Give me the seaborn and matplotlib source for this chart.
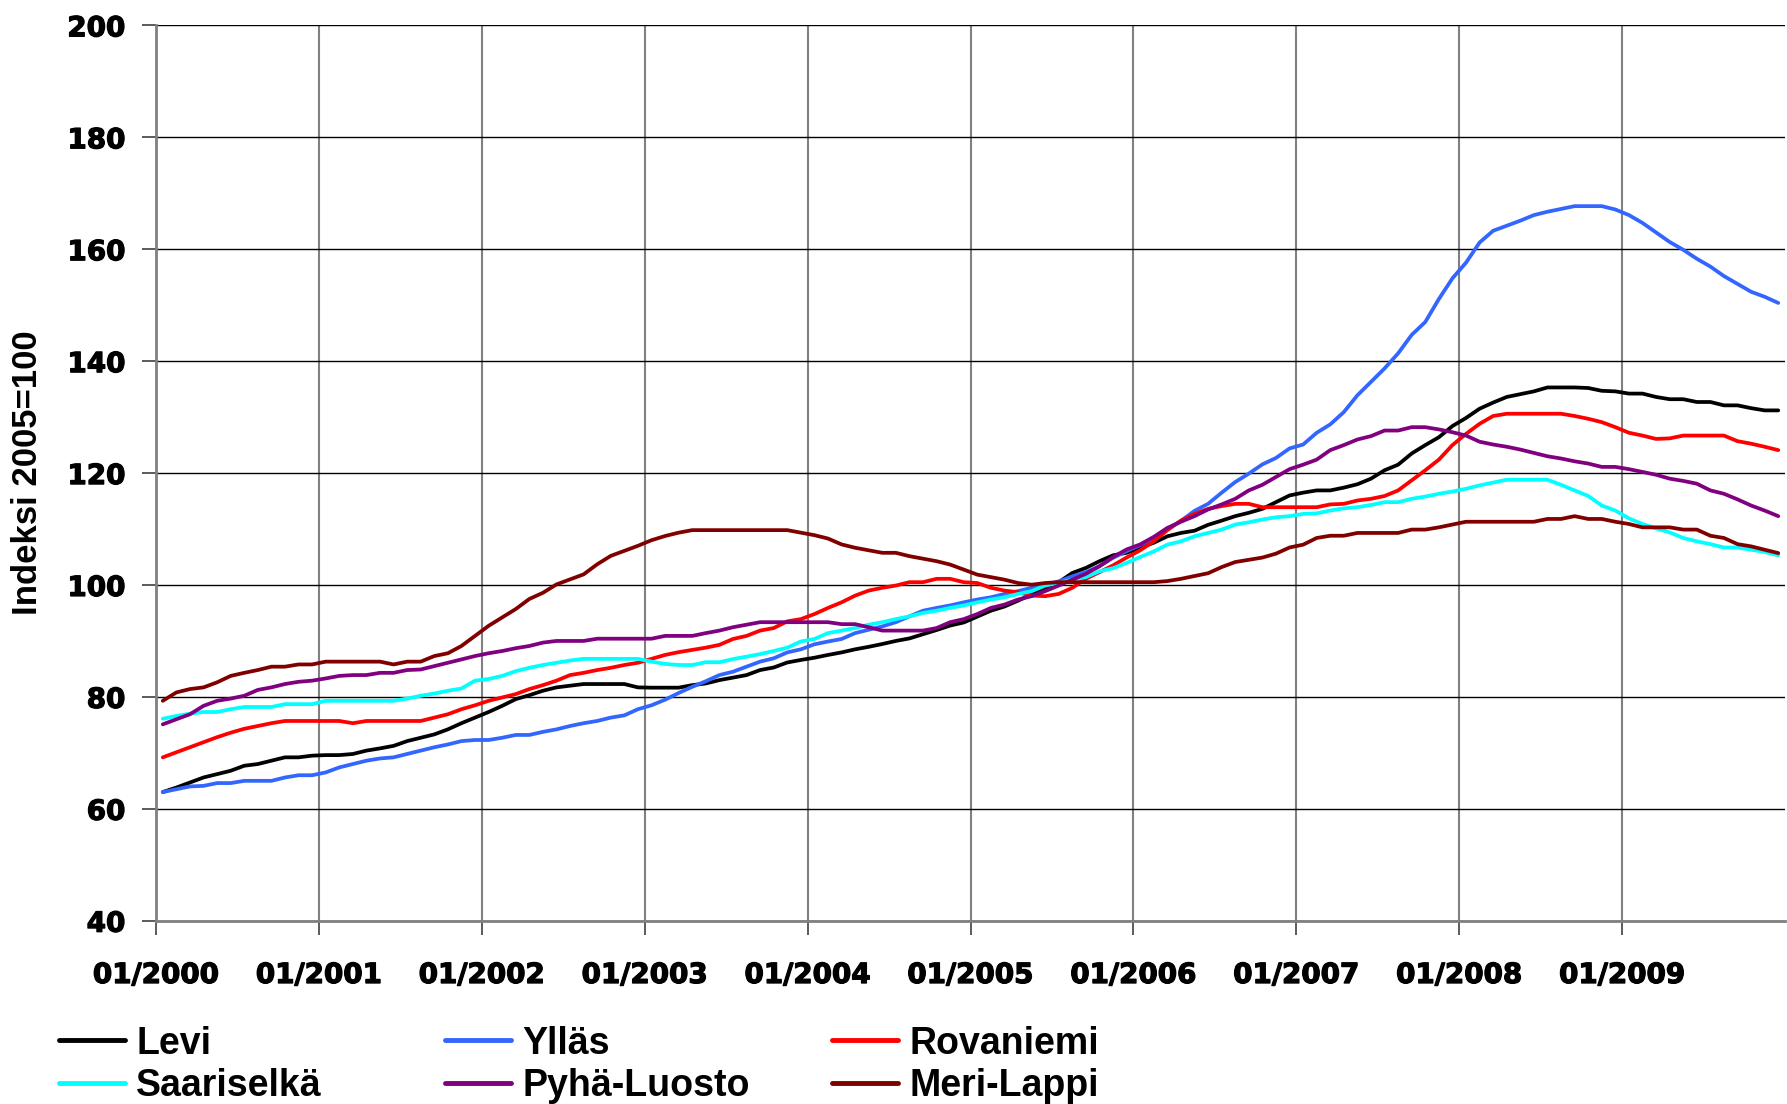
import numpy as np
import pandas as pd
import matplotlib
matplotlib.use("Agg")
import matplotlib.pyplot as plt
import matplotlib.patheffects as pe
import seaborn as sns

# kuukausittaiset indeksit 01/2000 - 12/2009 (2005=100)
levi = [63, 63.8, 64.7, 65.6, 66.2, 66.8, 67.7, 68, 68.6, 69.2, 69.2, 69.5,
        69.6, 69.6, 69.8, 70.4, 70.8, 71.25, 72.1, 72.7, 73.3, 74.2, 75.3, 76.3,
        77.3, 78.4, 79.6, 80.3, 81.1, 81.7, 82, 82.3, 82.3, 82.3, 82.3, 81.7,
        81.65, 81.65, 81.65, 82.1, 82.4, 83, 83.45, 83.9, 84.8, 85.25, 86.15, 86.6,
        87, 87.5, 87.95, 88.5, 88.95, 89.45, 90, 90.45, 91.2, 91.95, 92.75, 93.3,
        94.35, 95.4, 96.15, 97.2, 98.3, 99.5, 100.5, 102.15, 103.05, 104.25, 105.3, 105.75,
        106.65, 107.55, 108.7, 109.3, 109.7, 110.75, 111.5, 112.3, 112.9, 113.6, 114.8, 116,
        116.5, 116.9, 116.9, 117.4, 118, 119, 120.5, 121.5, 123.5, 125, 126.4, 128.4,
        129.85, 131.5, 132.6, 133.6, 134.1, 134.6, 135.3, 135.3, 135.3, 135.2, 134.7, 134.6,
        134.2, 134.2, 133.6, 133.2, 133.2, 132.7, 132.7, 132.1, 132.1, 131.6, 131.2, 131.2]

yllas = [63, 63.5, 64, 64.1, 64.6, 64.6, 65, 65, 65, 65.6, 66, 66,
         66.5, 67.4, 68, 68.6, 69, 69.2, 69.8, 70.4, 71, 71.5, 72.1, 72.3,
         72.3, 72.7, 73.2, 73.2, 73.75, 74.2, 74.8, 75.3, 75.7, 76.3, 76.7, 77.8,
         78.5, 79.5, 80.7, 81.8, 82.8, 83.9, 84.5, 85.4, 86.3, 86.9, 87.95, 88.5,
         89.4, 89.9, 90.35, 91.4, 92, 92.6, 93.35, 94.4, 95.4, 95.9, 96.35, 96.9,
         97.4, 97.8, 98.4, 98.9, 99.5, 100.05, 100.65, 101.55, 102.3, 103.35, 104.85, 106.05,
         107.1, 108.45, 109.95, 111.45, 113.25, 114.5, 116.5, 118.4, 119.9, 121.55, 122.7, 124.4,
         125.1, 127.2, 128.7, 130.9, 133.9, 136.3, 138.7, 141.4, 144.7, 147, 151.1, 154.8,
         157.6, 161.2, 163.3, 164.2, 165.1, 166.1, 166.7, 167.2, 167.7, 167.7, 167.7, 167.1,
         166.1, 164.7, 163, 161.3, 159.9, 158.3, 156.9, 155.2, 153.8, 152.4, 151.5, 150.4]

rovaniemi = [69.2, 70.1, 71, 71.9, 72.8, 73.6, 74.3, 74.8, 75.3, 75.7, 75.7, 75.7,
             75.7, 75.7, 75.3, 75.7, 75.7, 75.7, 75.7, 75.7, 76.3, 76.9, 77.8, 78.5,
             79.3, 79.9, 80.5, 81.4, 82.1, 82.9, 83.9, 84.3, 84.8, 85.2, 85.7, 86.1,
             86.8, 87.5, 88, 88.4, 88.8, 89.3, 90.35, 90.9, 91.85, 92.3, 93.5, 93.9,
             94.8, 95.9, 96.9, 98.1, 99, 99.5, 99.9, 100.5, 100.5, 101.1, 101.1, 100.5,
             100.35, 99.5, 99, 98.7, 98.1, 98, 98.4, 99.5, 101.1, 102.3, 103.5, 104.9,
             106.2, 107.8, 109.8, 111.5, 112.7, 113.6, 114.1, 114.5, 114.5, 113.9, 113.9, 113.9,
             113.9, 113.9, 114.4, 114.5, 115.1, 115.4, 115.9, 116.9, 118.7, 120.5, 122.4, 125,
             127, 128.8, 130.2, 130.6, 130.6, 130.6, 130.6, 130.6, 130.2, 129.7, 129.1, 128.2,
             127.2, 126.7, 126.1, 126.2, 126.7, 126.7, 126.7, 126.7, 125.7, 125.25, 124.7, 124.1]

saariselka = [76.1, 76.6, 77, 77.3, 77.3, 77.8, 78.2, 78.2, 78.2, 78.7, 78.7, 78.7,
              79.3, 79.3, 79.3, 79.3, 79.3, 79.3, 79.7, 80.2, 80.6, 81.1, 81.5, 82.9,
              83.2, 83.75, 84.6, 85.2, 85.7, 86.1, 86.5, 86.8, 86.8, 86.8, 86.8, 86.8,
              86.3, 85.9, 85.7, 85.7, 86.2, 86.2, 86.75, 87.2, 87.65, 88.2, 88.8, 89.9,
              90.35, 91.4, 91.85, 92.3, 92.9, 93.35, 93.9, 94.4, 95, 95.4, 95.9, 96.35,
              96.9, 97.4, 97.8, 98.4, 98.9, 99.9, 100.35, 100.95, 101.4, 102.45, 103, 103.95,
              105, 106, 107.2, 107.8, 108.7, 109.3, 109.9, 110.8, 111.2, 111.7, 112.1, 112.3,
              112.7, 112.8, 113.3, 113.7, 113.9, 114.3, 114.8, 114.8, 115.4, 115.8, 116.3, 116.7,
              117.2, 117.8, 118.3, 118.8, 118.8, 118.8, 118.8, 117.9, 116.9, 115.9, 114.2, 113.3,
              111.9, 110.9, 110.1, 109.4, 108.4, 107.8, 107.3, 106.7, 106.7, 106.3, 105.9, 105.3]

pyha_luosto = [75.1, 76, 76.9, 78.4, 79.3, 79.7, 80.2, 81.25, 81.7, 82.3, 82.7, 82.9,
               83.3, 83.75, 83.9, 83.9, 84.3, 84.3, 84.8, 84.9, 85.5, 86.1, 86.7, 87.3,
               87.8, 88.2, 88.7, 89.1, 89.7, 90, 90, 90, 90.4, 90.4, 90.4, 90.4,
               90.4, 90.9, 90.9, 90.9, 91.4, 91.85, 92.45, 92.9, 93.35, 93.35, 93.35, 93.35,
               93.35, 93.35, 93, 93, 92.45, 91.85, 91.85, 91.85, 91.85, 92.3, 93.35, 93.9,
               94.8, 95.9, 96.5, 97.4, 98, 98.9, 99.9, 100.95, 102, 103.35, 105, 106.35,
               107.25, 108.6, 110.2, 111.3, 112.3, 113.5, 114.4, 115.4, 116.9, 117.9, 119.3, 120.7,
               121.5, 122.4, 124.1, 125, 126, 126.6, 127.6, 127.6, 128.2, 128.2, 127.8, 127.3,
               126.7, 125.6, 125.1, 124.7, 124.2, 123.6, 123, 122.6, 122.1, 121.7, 121.1, 121.1,
               120.7, 120.2, 119.7, 119, 118.6, 118.1, 116.9, 116.3, 115.3, 114.2, 113.3, 112.3]

meri_lappi = [79.3, 80.8, 81.4, 81.7, 82.6, 83.75, 84.3, 84.8, 85.4, 85.4, 85.8, 85.8,
              86.3, 86.3, 86.3, 86.3, 86.3, 85.8, 86.3, 86.3, 87.3, 87.8, 89.1, 90.9,
              92.7, 94.2, 95.7, 97.5, 98.6, 100.1, 101, 101.9, 103.7, 105.2, 106.1, 107,
              108, 108.75, 109.35, 109.8, 109.8, 109.8, 109.8, 109.8, 109.8, 109.8, 109.8, 109.35,
              108.9, 108.3, 107.25, 106.65, 106.2, 105.75, 105.75, 105.15, 104.7, 104.25, 103.65, 102.75,
              101.85, 101.4, 100.95, 100.35, 100.05, 100.35, 100.5, 100.5, 100.5, 100.5, 100.5, 100.5,
              100.5, 100.5, 100.7, 101.1, 101.6, 102.1, 103.2, 104.1, 104.5, 104.9, 105.6, 106.7,
              107.2, 108.4, 108.8, 108.8, 109.3, 109.3, 109.3, 109.3, 109.9, 109.9, 110.3, 110.8,
              111.3, 111.3, 111.3, 111.3, 111.3, 111.3, 111.8, 111.8, 112.3, 111.8, 111.8, 111.3,
              110.9, 110.3, 110.3, 110.3, 109.9, 109.9, 108.8, 108.4, 107.3, 106.9, 106.3, 105.7]

alueet = ["Levi", "Ylläs", "Rovaniemi", "Saariselkä", "Pyhä-Luosto", "Meri-Lappi"]
varit = ["#000000", "#3366FF", "#FF0000", "#00FFFF", "#800080", "#800000"]
vuosi_labels = ["01/2000", "01/2001", "01/2002", "01/2003", "01/2004",
                "01/2005", "01/2006", "01/2007", "01/2008", "01/2009"]

df = pd.DataFrame({"Levi": levi, "Ylläs": yllas, "Rovaniemi": rovaniemi,
                   "Saariselkä": saariselka, "Pyhä-Luosto": pyha_luosto,
                   "Meri-Lappi": meri_lappi})
df["kk"] = np.arange(len(df)) + 0.5
long = df.melt(id_vars="kk", var_name="alue", value_name="indeksi")

sns.set_style("white")
plt.rcParams["font.family"] = ["DejaVu Sans"]
plt.rcParams["text.color"] = "black"
plt.rcParams["axes.labelcolor"] = "black"

fig = plt.figure(figsize=(17.87, 11.04), dpi=100)
ax = fig.add_axes([0.0873, 0.166, 0.9116, 0.811])

sns.lineplot(data=long, x="kk", y="indeksi", hue="alue", hue_order=alueet,
             palette=varit, linewidth=2.7, legend=False, ax=ax)

ax.set_xlim(0, 120)
ax.set_ylim(40, 200)
ax.set_yticks(range(40, 201, 20))
ax.set_xticks(range(0, 120, 12))
ax.set_xticklabels(vuosi_labels)
ax.set_xlabel("")

ax.yaxis.grid(True, color="#000000", linewidth=1.0)
ax.xaxis.grid(True, color="#808080", linewidth=1.5)
for s in ["top", "right"]:
    ax.spines[s].set_visible(False)
for s in ["left", "bottom"]:
    ax.spines[s].set_color("#808080")
    ax.spines[s].set_linewidth(2)

ax.tick_params(axis="both", direction="out", length=10, width=1.2, color="#404040",
               labelcolor="black", labelsize=20, left=True, bottom=True)
ax.tick_params(axis="y", pad=12)
ax.tick_params(axis="x", pad=19)
# vähän paksumpi teksti kuin pelkkä bold
for lbl in ax.get_xticklabels() + ax.get_yticklabels():
    lbl.set_fontweight("bold")
    lbl.set_path_effects([pe.withStroke(linewidth=0.9, foreground="black")])

ax.set_ylabel("Indeksi 2005=100", fontsize=25, fontweight="bold", color="black",
              family=["Liberation Sans", "DejaVu Sans"])
ax.yaxis.set_label_coords(-0.069, 0.5)

# selite kolmeen sarakkeeseen
lines = ax.get_lines()[:6]
col_x = [0.033, 0.249, 0.4656]
for c in range(3):
    h = [lines[c], lines[c + 3]]
    lab = [alueet[c], alueet[c + 3]]
    leg = ax.legend(h, lab, loc="upper left", bbox_to_anchor=(col_x[c], 0.071),
                    bbox_transform=fig.transFigure, frameon=False, borderpad=0,
                    borderaxespad=0, handlelength=1.76, handletextpad=0.3,
                    labelspacing=0.18, labelcolor="black",
                    prop={"family": ["Liberation Sans", "DejaVu Sans"],
                          "weight": "bold", "size": 27})
    for ln in leg.get_lines():
        ln.set_linewidth(3.5)
    if c < 2:
        ax.add_artist(leg)

fig.savefig("out.png", dpi=100)
